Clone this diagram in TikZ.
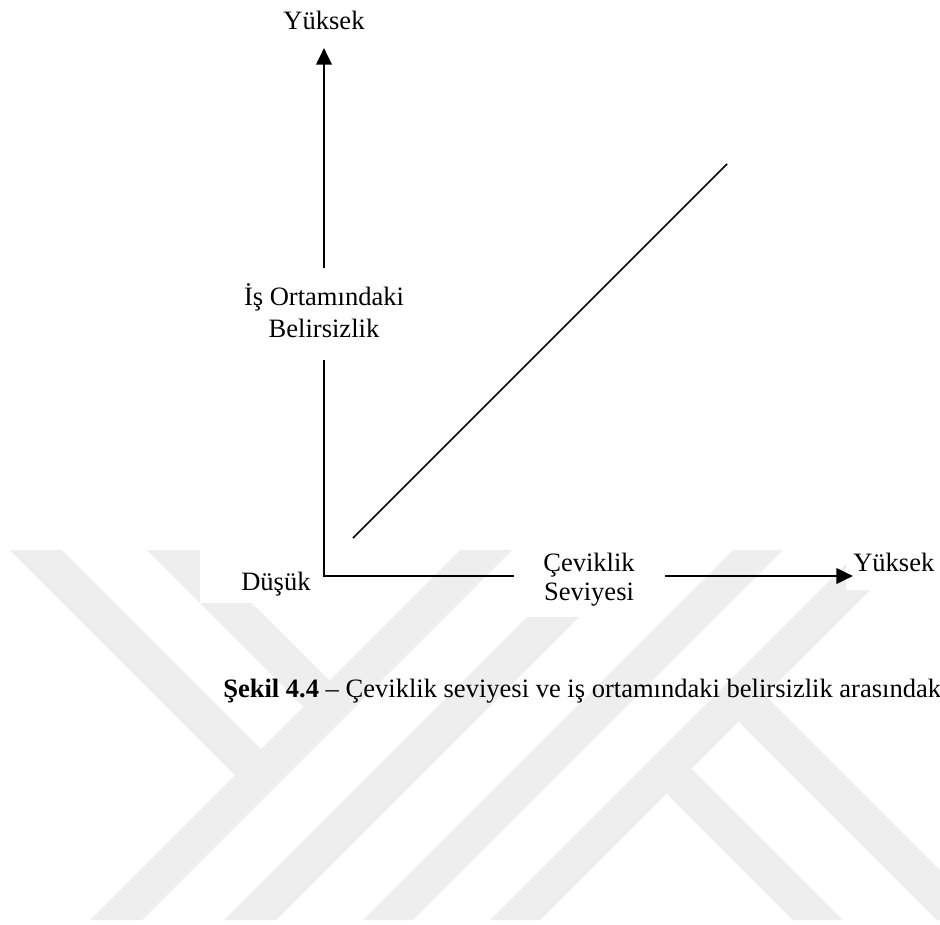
\documentclass[tikz,border=0pt]{standalone}
\usepackage{fontspec}
\setmainfont{Liberation Serif}
\usetikzlibrary{arrows.meta}
\definecolor{wm}{RGB}{238,238,238}
\begin{document}
\begin{tikzpicture}[x=0.75pt,y=-0.75pt,
  lbl/.style={font=\fontsize{19.9}{23}\selectfont, inner sep=0pt},
  axis/.style={line width=2.1pt, line join=miter},
  axisarrow/.style={line width=2.1pt, -{Triangle[length=12.5pt,width=11.5pt]}},
  diag/.style={line width=1.1pt},
  band/.style={fill=wm},
  cover/.style={fill=white}]
\useasboundingbox (0,0) rectangle (940,925);
% watermark
\begin{scope}
\clip (0,0) rectangle (940,925);
\fill[band] (10,550) -- (62,550) -- (261,749) -- (235,775) -- cycle;
\fill[band] (147,550) -- (199,550) -- (329.5,680.5) -- (303.5,706.5) -- cycle;
\fill[band] (460,550) -- (512,550) -- (142,920) -- (90,920) -- cycle;
\fill[band] (594,550) -- (646,550) -- (276,920) -- (224,920) -- cycle;
\fill[band] (733,550) -- (783,550) -- (413,920) -- (363,920) -- cycle;
\fill[band] (860,550) -- (910,550) -- (540,920) -- (490,920) -- cycle;
\fill[band] (793,920) -- (843,920) -- (691.5,768.5) -- (666.5,793.5) -- cycle;
\fill[band] (937,920) -- (990,920) -- (765,695) -- (738.5,721.5) -- cycle;
\end{scope}
% white label backgrounds
\fill[cover] (200,548) rectangle (318,603);
\fill[cover] (513,548) rectangle (665,617);
\fill[cover] (846,548) rectangle (936,590);
% labels
\node[lbl, anchor=base] (ytop) at (324,29) {Yüksek};
\node[lbl, anchor=base] (ylab1) at (324,305) {İş Ortamındaki};
\node[lbl, anchor=base] (ylab2) at (324,337) {Belirsizlik};
\node[lbl, anchor=base west] (low) at (241,590) {Düşük};
\node[lbl, anchor=base] (xlab1) at (589,571) {Çeviklik};
\node[lbl, anchor=base] (xlab2) at (589,600) {Seviyesi};
\node[lbl, anchor=base west] (xtop) at (853,571) {Yüksek};
\node[lbl, anchor=base west] (cap) at (223,697) {\textbf{Şekil 4.4} – Çeviklik seviyesi ve iş ortamındaki belirsizlik arasındak};
% axes
\coordinate (O) at (324,576);
\coordinate (yup) at (324,268);
\coordinate (ytip) at (324,48);
\coordinate (ylow) at (324,360);
\coordinate (xleft) at (514,576);
\coordinate (xright) at (665,576);
\coordinate (xtip) at (853,576);
\coordinate (d1) at (353,538);
\coordinate (d2) at (727,164);
\draw[axisarrow] (yup) -- (ytip);
\draw[axis] (ylow) -- (O) -- (xleft);
\draw[axisarrow] (xright) -- (xtip);
\draw[diag] (d1) -- (d2);
\end{tikzpicture}
\end{document}
